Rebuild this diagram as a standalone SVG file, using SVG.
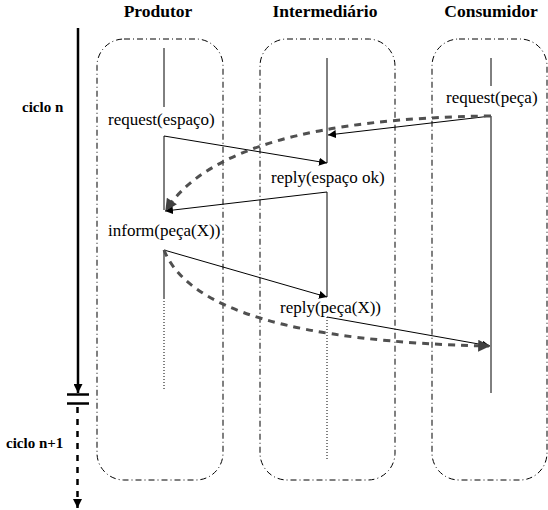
<svg xmlns="http://www.w3.org/2000/svg" width="548" height="510" viewBox="0 0 548 510">
<defs>
<style>
.hdr{font-family:"Liberation Serif","Times New Roman",serif;font-weight:bold;font-size:17.5px;text-anchor:middle;fill:#000}
.cyc{font-family:"Liberation Serif","Times New Roman",serif;font-weight:bold;font-size:15px;fill:#000}
.lbl{font-family:"Liberation Serif","Times New Roman",serif;font-size:17px;fill:#000}
.box{fill:none;stroke:#000;stroke-width:1;stroke-dasharray:6 3 1 3}
.life{stroke:#000;stroke-width:1;fill:none}
.dot{stroke:#000;stroke-width:1;stroke-dasharray:1 2;fill:none}
.msg{stroke:#000;stroke-width:1;fill:none;marker-end:url(#ah)}
.flow{stroke:#505050;stroke-width:3;stroke-dasharray:7 6;fill:none;marker-end:url(#gh)}
</style>
<marker id="ah" viewBox="0 0 10 10" refX="10" refY="5" markerWidth="8" markerHeight="8" markerUnits="userSpaceOnUse" orient="auto">
<path d="M0,0 L10,5 L0,10 z" fill="#000"/>
</marker>
<marker id="gh" viewBox="0 0 10 10" refX="9" refY="5" markerWidth="14" markerHeight="12" markerUnits="userSpaceOnUse" orient="auto">
<path d="M0,0 L10,5 L0,10 z" fill="#404040"/>
</marker>
<marker id="bh" viewBox="0 0 10 10" refX="10" refY="5" markerWidth="9" markerHeight="9" markerUnits="userSpaceOnUse" orient="auto">
<path d="M0,0 L10,5 L0,10 z" fill="#000"/>
</marker>
</defs>
<rect width="548" height="510" fill="#fff"/>

<g id="timeline">
<line x1="78" y1="28" x2="78" y2="393" stroke="#000" stroke-width="2.5" marker-end="url(#bh)"/>
<line x1="67" y1="394.5" x2="89" y2="394.5" stroke="#000" stroke-width="2.5"/>
<line x1="67" y1="403.5" x2="89" y2="403.5" stroke="#000" stroke-width="2.5"/>
<line x1="77.5" y1="407" x2="77.5" y2="508" stroke="#000" stroke-width="2.5" stroke-dasharray="6 6" marker-end="url(#bh)"/>
<text class="cyc" x="22" y="112">ciclo n</text>
<text class="cyc" x="6" y="448">ciclo n+1</text>
</g>

<g id="produtor">
<rect class="box" x="97" y="39" width="126" height="441" rx="27" ry="27"/>
<text class="hdr" x="158" y="17">Produtor</text>
<line class="life" x1="164" y1="48" x2="164" y2="107"/>
<line class="life" x1="164" y1="136" x2="164" y2="210"/>
<line class="life" x1="164" y1="250" x2="164" y2="298"/>
<line class="dot" x1="164" y1="298" x2="164" y2="391"/>
<text class="lbl" x="108" y="125">request(espaço)</text>
<text class="lbl" x="108" y="236">inform(peça(X))</text>
</g>

<g id="intermediario">
<rect class="box" x="260" y="39" width="135" height="441" rx="27" ry="27"/>
<text class="hdr" x="325" y="17">Intermediário</text>
<line class="life" x1="327" y1="58" x2="327" y2="163"/>
<line class="life" x1="327" y1="192" x2="327" y2="297"/>
<line class="dot" x1="327" y1="317" x2="327" y2="459"/>
<text class="lbl" x="271" y="183">reply(espaço ok)</text>
<text class="lbl" x="280" y="313">reply(peça(X))</text>
</g>

<g id="consumidor">
<rect class="box" x="432" y="39" width="115" height="441" rx="27" ry="27"/>
<text class="hdr" x="491" y="17">Consumidor</text>
<line class="life" x1="491" y1="58" x2="491" y2="86"/>
<line class="life" x1="491" y1="116" x2="491" y2="393"/>
<text class="lbl" x="446" y="103">request(peça)</text>
</g>

<g id="connectors">
<line class="msg" x1="164" y1="136" x2="327" y2="163"/>
<line class="msg" x1="491" y1="116" x2="328" y2="135"/>
<line class="msg" x1="327" y1="192" x2="165" y2="211"/>
<line class="msg" x1="164" y1="250" x2="327" y2="297"/>
<line class="msg" x1="327" y1="317" x2="490" y2="346"/>
<path class="flow" d="M491,116 Q225,119 166,210"/>
<path class="flow" d="M164,250 Q200,340 489,346"/>
</g>
</svg>
